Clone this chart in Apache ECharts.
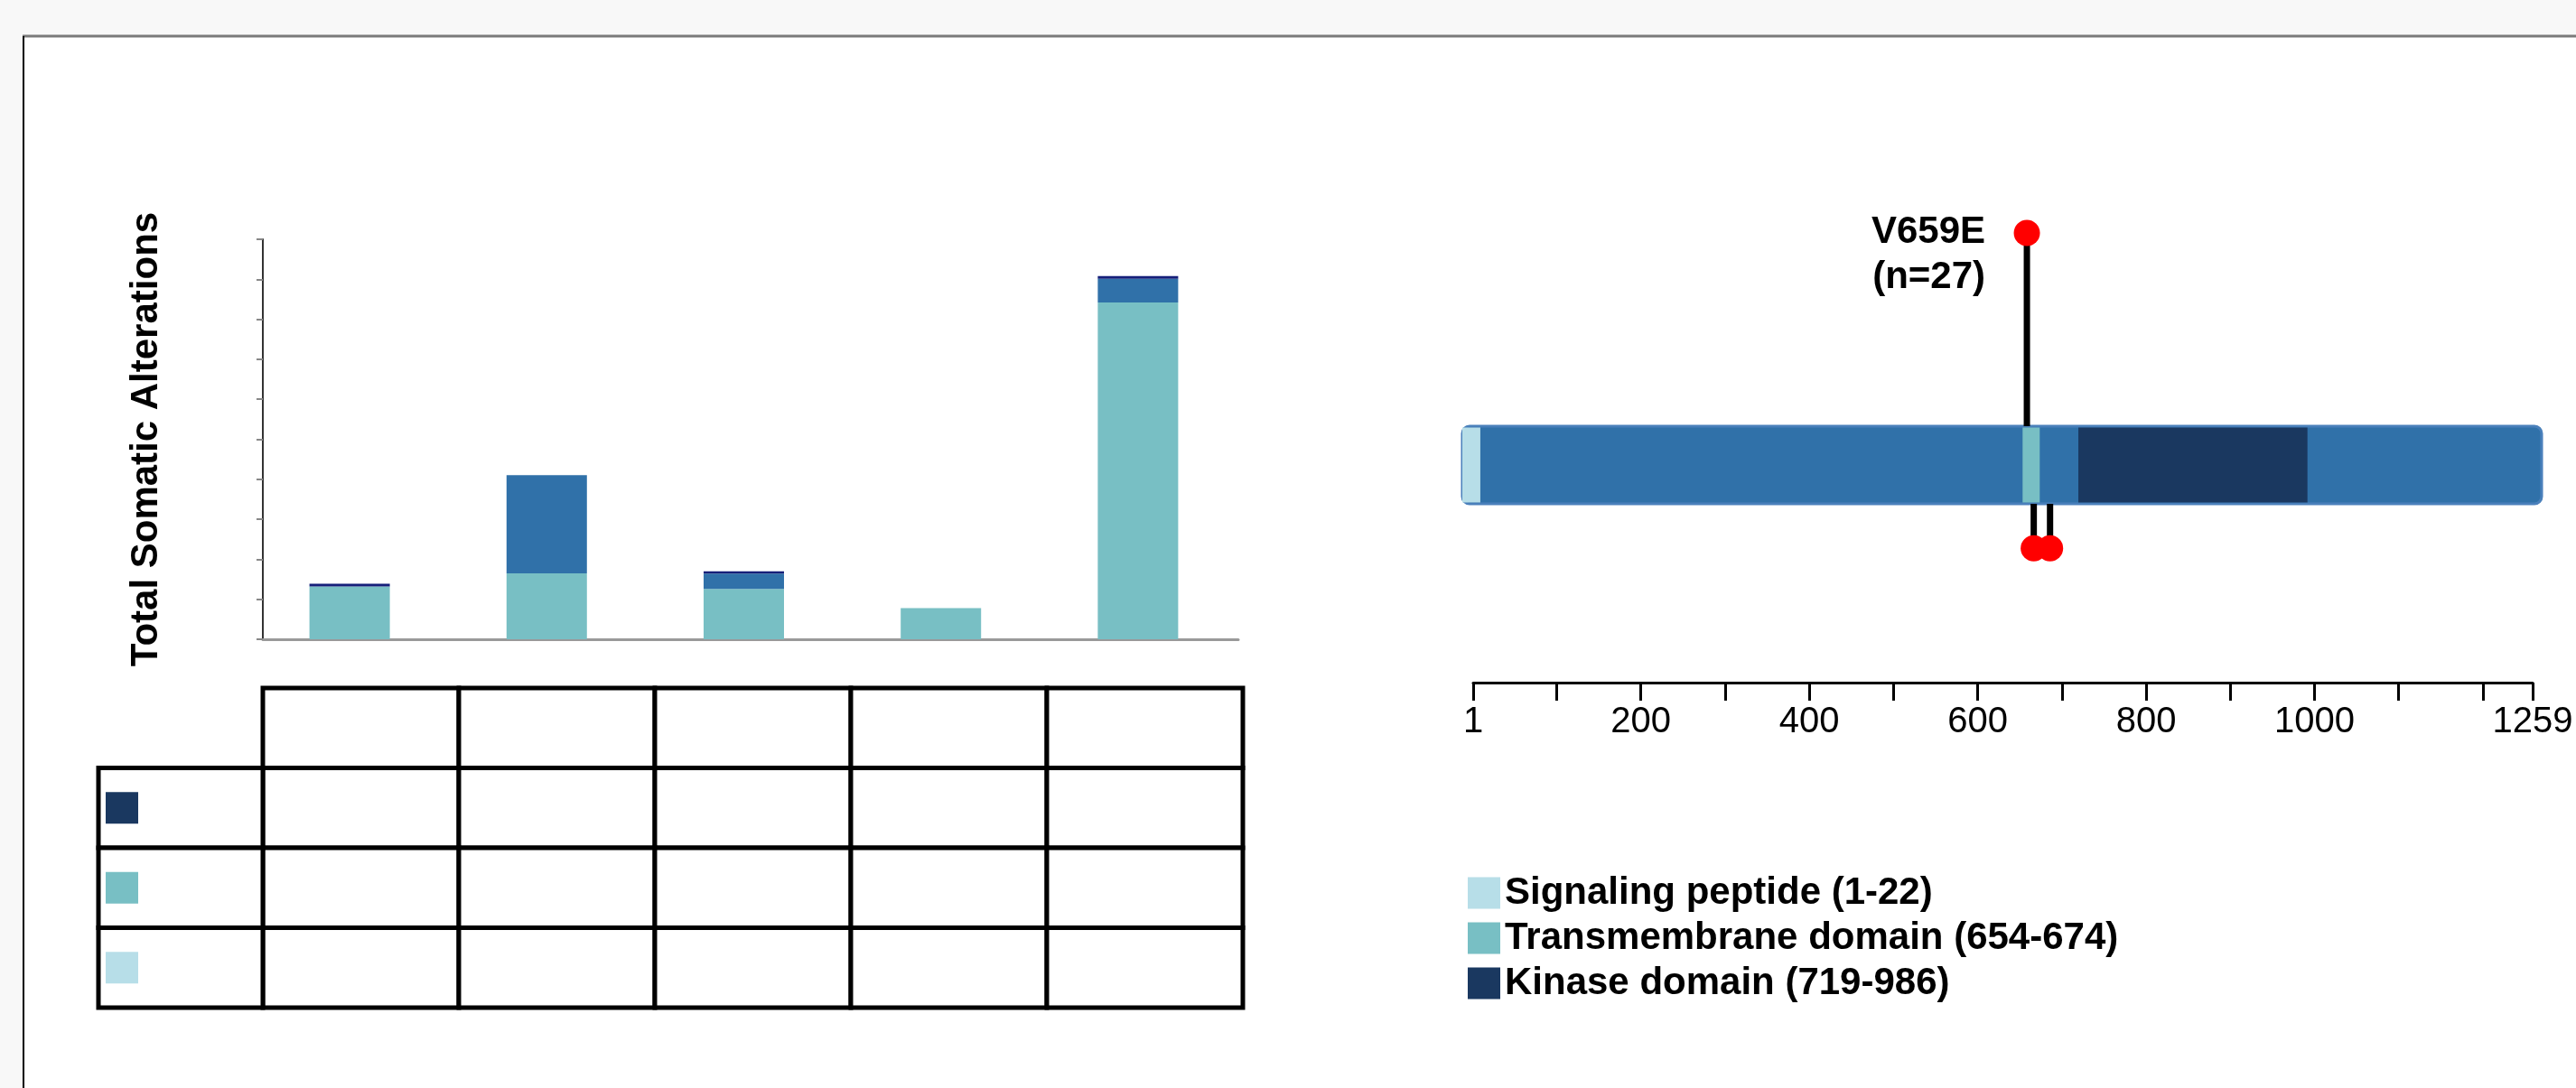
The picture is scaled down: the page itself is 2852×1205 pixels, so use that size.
<!DOCTYPE html>
<html>
<head>
<meta charset="utf-8">
<title>Somatic alterations and protein domains</title>
<script src="https://cdn.jsdelivr.net/npm/echarts@6.0.0/dist/echarts.min.js"></script>
<style>
  html, body { margin: 0; padding: 0; background: #f8f8f8; }
  #chart { width: 2852px; height: 1205px; }
</style>
</head>
<body>
<div id="chart"></div>
<script>
// stacked bars, one per group (no labels in the picture)
const groups = ['Group 1', 'Group 2', 'Group 3', 'Group 4', 'Group 5']
const transmembraneCounts = [13.2, 16.5, 12.6, 7.8, 84.2]
const otherCounts = [0, 24.5, 3.8, 0, 5.9]
const kinaseCounts = [0.7, 0, 0.6, 0, 0.7]

// table under the bars: header row + one row per domain
const tableRows = ['', 'Kinase domain', 'Transmembrane domain', 'Signaling peptide']

// protein track
const proteinLength = 1259
const domainNames = ['Signaling peptide', 'Transmembrane domain', 'Kinase domain']
const domainStart = [1, 654, 719]
const domainEnd = [22, 674, 986]
const rulerTicks = [1, 100, 200, 300, 400, 500, 600, 700, 800, 900, 1000, 1100, 1200, 1259]
const rulerLabels = [1, 200, 400, 600, 800, 1000, 1259]

// lollipops: position, stem height (negative = below the track), name, count
const mutPos = [659, 667, 686]
const mutHeight = [27, -9.7, -9.7]
const mutName = ['V659E', '', '']
const mutCount = [27, null, null]

const FONT = "'Liberation Sans', Arial, sans-serif"
const colors = {
  signal: '#b7dee8',
  transmembrane: '#78bfc4',
  other: '#3071a9',
  kinase: '#1a3860',
  kinaseBar: '#16207a'
}
const domainColors = [colors.signal, colors.transmembrane, colors.kinase]
const rowColors = [null, colors.kinase, colors.transmembrane, colors.signal]

const myChart = echarts.init(document.getElementById('chart'))

const tableCells = []
tableRows.forEach((r, ri) => {
  groups.forEach((g, ci) => tableCells.push([ci, ri]))
})
const sideCells = []
tableRows.forEach((r, ri) => {
  if (ri > 0) sideCells.push([0, ri])
})

const legendNames = domainNames.map((n, i) => n + ' (' + domainStart[i] + '-' + domainEnd[i] + ')')

const HALF = 43 // half height of the protein track, px

const domainSeries = domainNames.map((n, i) => ({
  name: legendNames[i],
  type: 'custom',
  xAxisIndex: 2,
  yAxisIndex: 2,
  color: domainColors[i],
  z: 4,
  data: [[domainStart[i], domainEnd[i]]],
  renderItem (params, api) {
    let a = api.coord([api.value(0), 0])
    let b = api.coord([api.value(1), 0])
    return {
      type: 'rect',
      shape: { x: a[0], y: a[1] - HALF + 1.5, width: b[0] - a[0], height: HALF * 2 - 3 },
      style: { fill: domainColors[i] }
    }
  }
}))

let option = {
  backgroundColor: '#f8f8f8',
  animation: false,
  graphic: [
    { type: 'rect', z: -100, silent: true, shape: { x: 25, y: 40, width: 2827, height: 1165 }, style: { fill: '#fff' } },
    { type: 'line', silent: true, shape: { x1: 25, y1: 40, x2: 2852, y2: 40 }, style: { stroke: '#7a7a7a', lineWidth: 3 } },
    { type: 'line', silent: true, shape: { x1: 26, y1: 40, x2: 26, y2: 1205 }, style: { stroke: '#000', lineWidth: 2 } }
  ],
  legend: {
    data: legendNames,
    orient: 'vertical',
    left: 1620,
    top: 963,
    itemWidth: 36,
    itemHeight: 35,
    itemGap: 8,
    icon: 'rect',
    selectedMode: false,
    textStyle: { fontSize: 42, lineHeight: 35, fontWeight: 'bold', color: '#000', fontFamily: FONT }
  },
  grid: [
    { left: 278, top: 265, width: 1091, height: 443 }, // bars
    { left: 291, top: 762, width: 1085, height: 354 }, // table
    { left: 1619, top: 229.4, width: 1195, height: 428.4 }, // protein track
    { left: 1631, top: 700, width: 1173, height: 56 }, // ruler
    { left: 291, top: 265, width: 1080, height: 443 } // axes of the bar chart
  ],
  xAxis: [
    { gridIndex: 0, type: 'category', data: groups, show: false },
    { gridIndex: 1, type: 'category', data: groups, show: false },
    { gridIndex: 2, type: 'value', min: 1, max: proteinLength, show: false },
    {
      gridIndex: 3,
      type: 'value',
      min: 1,
      max: proteinLength,
      axisLine: { show: true, lineStyle: { color: '#000', width: 3 } },
      axisTick: { show: true, customValues: rulerTicks, length: 20, lineStyle: { color: '#000', width: 3 } },
      axisLabel: {
        customValues: rulerLabels,
        fontSize: 40,
        color: '#000',
        margin: 24,
        fontFamily: FONT,
        formatter: v => String(v)
      },
      splitLine: { show: false }
    },
    {
      gridIndex: 4,
      type: 'value',
      min: 0,
      max: 1,
      axisLine: { show: true, lineStyle: { color: '#999', width: 3 } },
      axisTick: { show: false },
      axisLabel: { show: false },
      splitLine: { show: false }
    }
  ],
  yAxis: [
    { gridIndex: 0, type: 'value', min: 0, max: 100, show: false },
    { gridIndex: 1, type: 'category', data: tableRows, inverse: true, show: false },
    { gridIndex: 2, type: 'value', min: -15, max: 30, show: false },
    { gridIndex: 3, type: 'value', show: false },
    {
      gridIndex: 4,
      type: 'value',
      min: 0,
      max: 100,
      interval: 10,
      name: 'Total Somatic Alterations',
      nameLocation: 'middle',
      nameGap: 108,
      nameTextStyle: { fontSize: 42, fontWeight: 'bold', color: '#000', fontFamily: FONT },
      axisLine: { show: true, lineStyle: { color: '#333', width: 2 } },
      axisTick: { show: true, length: 7, lineStyle: { color: '#888', width: 2 } },
      axisLabel: { show: false },
      splitLine: { show: false }
    }
  ],
  series: [
    { name: 'Transmembrane', type: 'bar', stack: 'total', barWidth: 89, data: transmembraneCounts, itemStyle: { color: colors.transmembrane } },
    { name: 'Other', type: 'bar', stack: 'total', barWidth: 89, data: otherCounts, itemStyle: { color: colors.other } },
    { name: 'Kinase', type: 'bar', stack: 'total', barWidth: 89, data: kinaseCounts, itemStyle: { color: colors.kinaseBar } },
    {
      // table cells
      type: 'custom',
      xAxisIndex: 1,
      yAxisIndex: 1,
      data: tableCells,
      renderItem (params, api) {
        let p = api.coord([api.value(0), api.value(1)])
        let s = api.size([1, 1])
        return {
          type: 'rect',
          shape: { x: p[0] - s[0] / 2, y: p[1] - s[1] / 2, width: s[0], height: s[1] },
          style: { fill: '#fff', stroke: '#000', lineWidth: 5 }
        }
      }
    },
    {
      // first column with colour keys
      type: 'custom',
      xAxisIndex: 1,
      yAxisIndex: 1,
      data: sideCells,
      renderItem (params, api) {
        let r = api.value(1)
        let p = api.coord([api.value(0), r])
        let s = api.size([1, 1])
        let x0 = p[0] - s[0] / 2
        return {
          type: 'group',
          children: [
            {
              type: 'rect',
              shape: { x: x0 - 182, y: p[1] - s[1] / 2, width: 182, height: s[1] },
              style: { fill: '#fff', stroke: '#000', lineWidth: 5 }
            },
            {
              type: 'rect',
              shape: { x: x0 - 174, y: p[1] - 17.5, width: 36, height: 35 },
              style: { fill: rowColors[r] }
            }
          ]
        }
      }
    },
    {
      // protein backbone
      type: 'custom',
      xAxisIndex: 2,
      yAxisIndex: 2,
      z: 3,
      data: [[1, proteinLength]],
      renderItem (params, api) {
        let a = api.coord([api.value(0), 0])
        let b = api.coord([api.value(1), 0])
        return {
          type: 'rect',
          shape: { x: a[0], y: a[1] - HALF, width: b[0] - a[0], height: HALF * 2, r: 8 },
          style: { fill: colors.other, stroke: '#4a80bb', lineWidth: 3 }
        }
      }
    },
    ...domainSeries,
    {
      // lollipops
      type: 'custom',
      xAxisIndex: 2,
      yAxisIndex: 2,
      z: 5,
      data: mutPos.map((p, i) => [p, mutHeight[i]]),
      renderItem (params, api) {
        let i = params.dataIndex
        let h = api.value(1)
        let end = api.coord([api.value(0), h])
        let base = api.coord([api.value(0), 0])
        let edge = base[1] + (h > 0 ? -HALF : HALF)
        let children = [
          { type: 'line', shape: { x1: end[0], y1: edge, x2: end[0], y2: end[1] }, style: { stroke: '#000', lineWidth: 7 } },
          { type: 'circle', shape: { cx: end[0], cy: end[1], r: 14.5 }, style: { fill: '#ff0000' } }
        ]
        if (mutName[i]) {
          children.push({
            type: 'text',
            style: {
              text: mutName[i] + '\n(n=' + mutCount[i] + ')',
              x: end[0] - 46,
              y: end[1] - 26,
              align: 'right',
              verticalAlign: 'top',
              fontSize: 42,
              fontWeight: 'bold',
              fontFamily: FONT,
              lineHeight: 50,
              fill: '#000'
            }
          })
        }
        return { type: 'group', children: children }
      }
    }
  ]
}
myChart.setOption(option, true)
</script>
</body>
</html>
